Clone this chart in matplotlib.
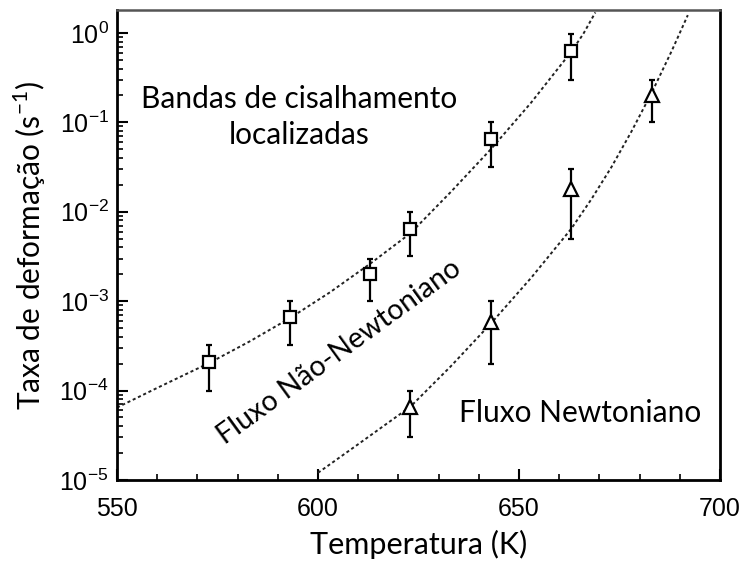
import matplotlib
matplotlib.use("Agg")
import matplotlib.pyplot as plt
import matplotlib.ticker as mticker
import numpy as np

# dados
temp_quadrado = [573, 593, 613, 623, 643, 663]
taxa_quadrado = [2.1e-4, 6.6e-4, 2.0e-3, 6.4e-3, 6.5e-2, 0.63]
erro_inf_quadrado = [1.0e-4, 3.2e-4, 1.0e-3, 3.2e-3, 3.2e-2, 0.30]
erro_sup_quadrado = [3.2e-4, 1.0e-3, 3.0e-3, 1.0e-2, 1.0e-1, 0.97]

temp_triangulo = [623, 643, 663, 683]
taxa_triangulo = [6.6e-5, 5.9e-4, 1.8e-2, 0.20]
erro_inf_triangulo = [3.0e-5, 2.0e-4, 5.0e-3, 0.10]
erro_sup_triangulo = [1.0e-4, 1.0e-3, 3.0e-2, 0.30]

# curvas tracejadas (log10 da taxa)
temp_curva_sup = [550, 560, 573, 583, 593, 603, 613, 623, 633, 643, 653, 663, 666, 669]
log_curva_sup = [-4.19, -3.97, -3.69, -3.45, -3.19, -2.90, -2.58, -2.24, -1.78, -1.30, -0.78,
                 -0.21, -0.01, 0.23]
temp_curva_inf = [600, 610, 623, 633, 643, 653, 663, 668, 673, 678, 683, 688, 692]
log_curva_inf = [-4.92, -4.60, -4.18, -3.73, -3.25, -2.74, -2.19, -1.86, -1.50, -1.10, -0.67,
                 -0.20, 0.20]

fonte_texto = "Lato"
fonte_eixo = "Liberation Sans"

fig = plt.figure(figsize=(7.43, 5.66), dpi=100)
ax = fig.add_axes([0.1575, 0.152, 0.8115, 0.830])

estilo_linha = dict(color="#222222", lw=1.4, linestyle=(0, (1.6, 1.4)))
ax.plot(temp_curva_sup, 10 ** np.array(log_curva_sup), **estilo_linha)
ax.plot(temp_curva_inf, 10 ** np.array(log_curva_inf), **estilo_linha)

def barras(ax, t, y, lo, hi, marcador, tam):
    y = np.array(y)
    yerr = [y - np.array(lo), np.array(hi) - y]
    ax.errorbar(t, y, yerr=yerr, fmt=marcador, ms=tam, mfc="white", mec="black",
                mew=1.6, ecolor="black", elinewidth=1.6, capsize=2.5, capthick=1.6,
                zorder=5)

barras(ax, temp_quadrado, taxa_quadrado, erro_inf_quadrado, erro_sup_quadrado, "s", 8.5)
barras(ax, temp_triangulo, taxa_triangulo, erro_inf_triangulo, erro_sup_triangulo, "^", 9.5)

ax.set_yscale("log")
ax.set_xlim(550, 700)
ax.set_ylim(1e-5, 1.8)

ax.xaxis.set_major_locator(mticker.MultipleLocator(50))
ax.xaxis.set_minor_locator(mticker.MultipleLocator(10))
ax.yaxis.set_major_locator(mticker.LogLocator(base=10, numticks=10))
ax.yaxis.set_minor_locator(mticker.LogLocator(base=10, subs=np.arange(2, 10), numticks=20))
ax.yaxis.set_minor_formatter(mticker.NullFormatter())
ax.yaxis.set_major_formatter(mticker.FuncFormatter(
    lambda v, p: r"$\mathregular{10^{%d}}$" % int(round(np.log10(v)))))

ax.tick_params(which="both", direction="in", top=False, right=False)
ax.tick_params(which="major", length=8, width=1.5, labelsize=18)
ax.tick_params(axis="x", which="major", pad=12)
ax.tick_params(axis="y", which="major", pad=6)
ax.tick_params(which="minor", length=4, width=1.2)
for lbl in ax.get_xticklabels() + ax.get_yticklabels():
    lbl.set_fontfamily(fonte_eixo)

for lado in ["left", "bottom", "right"]:
    ax.spines[lado].set_linewidth(2)
ax.spines["top"].set_linewidth(1.8)
ax.spines["top"].set_color("#555555")

ax.set_xlabel("Temperatura (K)", fontsize=22, family=fonte_texto, labelpad=7)
ax.set_ylabel(r"Taxa de deformação (s$^{\mathregular{-1}}$)", fontsize=21.5,
              family=fonte_texto, labelpad=8)

ax.text(0.302, 0.772, "Bandas de cisalhamento\nlocalizadas", transform=ax.transAxes,
        ha="center", va="center", fontsize=21.5, family=fonte_texto, linespacing=1.35)
ax.text(0.368, 0.272, "Fluxo Não-Newtoniano", transform=ax.transAxes,
        ha="center", va="center", fontsize=20.5, family=fonte_texto, rotation=36)
ax.text(0.768, 0.143, "Fluxo Newtoniano", transform=ax.transAxes,
        ha="center", va="center", fontsize=21.5, family=fonte_texto)

fig.savefig("out.png", dpi=100)
